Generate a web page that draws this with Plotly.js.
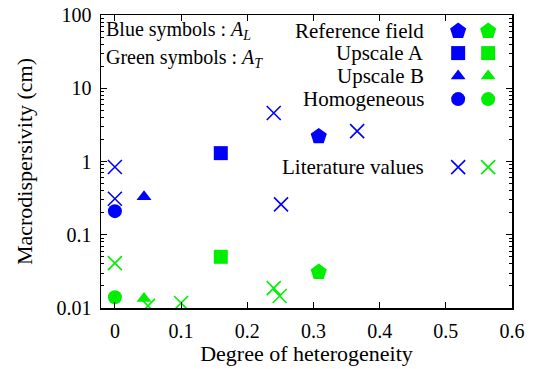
<!DOCTYPE html>
<html><head><meta charset="utf-8">
<script src="https://cdn.plot.ly/plotly-3.0.1.min.js"></script>
<style>html,body{margin:0;padding:0;background:#fff}#plot{width:536px;height:369px}</style>
</head><body><div id="plot"></div>
<script>
// Blue symbols: A_L (longitudinal), Green symbols: A_T (transverse)
const refX = [0.308], refAL = [2.2], refAT = [0.031];
const upAX = [0.160], upAAL = [1.3], upAAT = [0.050];
const upBX = [0.044], upBAL = [0.33], upBAT = [0.0135];
const homX = [0.0], homAL = [0.21], homAT = [0.014];
const litALx = [0.0, 0.0, 0.240, 0.251, 0.366];
const litAL  = [0.84, 0.31, 4.6, 0.26, 2.6];
const litATx = [0.0, 0.050, 0.100, 0.240, 0.249];
const litAT  = [0.041, 0.0107, 0.0117, 0.0187, 0.0146];
const keyLabels = ['Reference field', 'Upscale A', 'Upscale B', 'Homogeneous', 'Literature values'];
const keySymbols = ['pentagon', 'square', 'triangle-up', 'circle', 'x-thin-open'];
const keySizes = [17, 14, 13, 14, 14];

const BLUE = '#0000ff', GREEN = '#00ee00';
const FONT = 'Liberation Serif';

function mk(x, y, color, sym, size) {
  const m = {color: color, symbol: sym, size: size};
  if (sym === 'x-thin-open') m.line = {color: color, width: 1.6};
  return {type: 'scatter', mode: 'markers', x: x, y: y, marker: m, showlegend: false, hoverinfo: 'skip'};
}
const traces = [
  mk(refX, refAL, BLUE, 'pentagon', 17), mk(refX, refAT, GREEN, 'pentagon', 17),
  mk(upAX, upAAL, BLUE, 'square', 14), mk(upAX, upAAT, GREEN, 'square', 14),
  mk(upBX, upBAL, BLUE, 'triangle-up', 13), mk(upBX, upBAT, GREEN, 'triangle-up', 13),
  mk(homX, homAL, BLUE, 'circle', 14), mk(homX, homAT, GREEN, 'circle', 14),
  mk(litALx, litAL, BLUE, 'x-thin-open', 14), mk(litATx, litAT, GREEN, 'x-thin-open', 14)
];

// key (gnuplot-style, two symbols per row)
const keyRowsY = [0.945, 0.870, 0.792, 0.713, 0.481];
const annotations = [];
keyLabels.forEach((lab, i) => {
  [[0.869, BLUE], [0.942, GREEN]].forEach(([kx, col]) => {
    const t = mk([kx], [keyRowsY[i]], col, keySymbols[i], keySizes[i]);
    t.xaxis = 'x2'; t.yaxis = 'y2';
    traces.push(t);
  });
  annotations.push({xref: 'paper', yref: 'paper', x: 0.791, y: keyRowsY[i], xanchor: 'right', yanchor: 'middle',
    text: lab, showarrow: false, font: {family: FONT, size: 21, color: '#000'}});
});
annotations.push({xref: 'paper', yref: 'paper', x: 0.008, y: 0.948, xanchor: 'left', yanchor: 'middle',
  text: 'Blue symbols : <i>A</i><sub><i>L</i></sub>', showarrow: false, font: {family: FONT, size: 20, color: '#000'}});
annotations.push({xref: 'paper', yref: 'paper', x: 0.008, y: 0.853, xanchor: 'left', yanchor: 'middle',
  text: 'Green symbols : <i>A</i><sub><i>T</i></sub>', showarrow: false, font: {family: FONT, size: 20, color: '#000'}});

const layout = {
  width: 536, height: 369,
  margin: {l: 101, r: 24, t: 15, b: 61},
  paper_bgcolor: '#fff', plot_bgcolor: '#fff',
  font: {family: FONT, size: 20, color: '#000'},
  showlegend: false,
  xaxis: {
    range: [-0.021, 0.6], tickvals: [0, 0.1, 0.2, 0.3, 0.4, 0.5, 0.6],
    ticktext: ['0', '0.1', '0.2', '0.3', '0.4', '0.5', '0.6'],
    ticks: 'inside', ticklen: 6, tickwidth: 1, tickcolor: '#000',
    showline: true, linecolor: '#000', linewidth: 1.5, mirror: 'allticks',
    showgrid: false, zeroline: false, ticklabelstandoff: 4,
    tickfont: {family: FONT, size: 20},
    title: {text: 'Degree of heterogeneity', font: {family: FONT, size: 22}, standoff: 4}
  },
  yaxis: {
    type: 'log', range: [-2, 2],
    tickvals: [0.01, 0.1, 1, 10, 100], ticktext: ['0.01', '0.1', '1', '10', '100'],
    ticks: 'inside', ticklen: 6, tickwidth: 1, tickcolor: '#000',
    minor: {ticks: 'inside', ticklen: 3, tickcolor: '#000', dtick: 'D1', showgrid: false},
    showline: true, linecolor: '#000', linewidth: 1.5, mirror: 'allticks',
    showgrid: false, zeroline: false, ticklabelstandoff: 4,
    tickfont: {family: FONT, size: 20},
    title: {text: 'Macrodispersivity (cm)', font: {family: FONT, size: 22}, standoff: 18}
  },
  xaxis2: {overlaying: 'x', range: [0, 1], visible: false, fixedrange: true},
  yaxis2: {overlaying: 'y', range: [0, 1], visible: false, fixedrange: true},
  annotations: annotations
};
Plotly.newPlot('plot', traces, layout, {staticPlot: true, displayModeBar: false});
</script></body></html>
